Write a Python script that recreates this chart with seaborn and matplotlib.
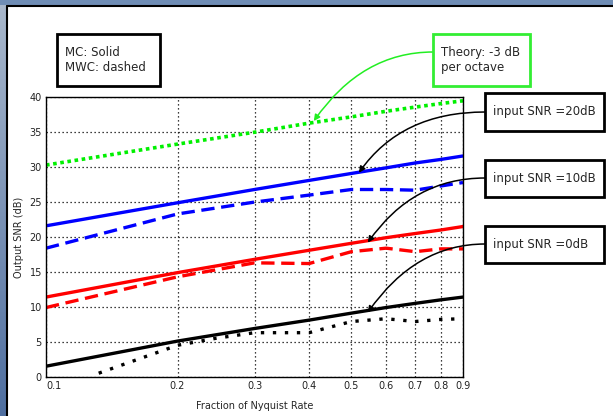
import numpy as np
import pandas as pd
import matplotlib
matplotlib.use("Agg")
import matplotlib.pyplot as plt
import seaborn as sns
from matplotlib.patches import Rectangle

# values
fraction = [0.1, 0.2, 0.3, 0.4, 0.5, 0.6, 0.7, 0.8, 0.9]
theory = [30.3, 33.3, 35.0, 36.3, 37.2, 38.0, 38.6, 39.1, 39.5]
mc_20db = [21.6, 24.9, 26.8, 28.1, 29.1, 29.9, 30.6, 31.1, 31.6]
mwc_20db = [18.4, 23.3, 25.0, 26.0, 26.8, 26.8, 26.7, 27.3, 27.8]
mc_10db = [11.4, 14.9, 16.8, 18.1, 19.1, 19.9, 20.5, 21.0, 21.5]
mwc_10db = [9.9, 14.3, 16.3, 16.2, 17.9, 18.4, 17.9, 18.3, 18.3]
mc_0db = [1.5, 5.1, 6.9, 8.1, 9.1, 9.9, 10.5, 11.0, 11.4]
fraction_mwc0 = [0.132, 0.2, 0.245, 0.3, 0.4, 0.5, 0.6, 0.7, 0.8, 0.9]
mwc_0db = [0.5, 4.5, 5.5, 6.3, 6.3, 7.9, 8.3, 7.9, 8.2, 8.3]

xticks = [0.1, 0.2, 0.3, 0.4, 0.5, 0.6, 0.7, 0.8, 0.9]
yticks = [0, 5, 10, 15, 20, 25, 30, 35, 40]

sns.set_theme(style="white")
plt.rcParams["font.family"] = ["DejaVu Sans"]

W, H = 613, 416
fig = plt.figure(figsize=(W / 100, H / 100), dpi=100)
fig.patch.set_facecolor("white")


def fx(px):
    return px / W


def fy(py):
    return 1 - py / H


# slide frame: blue strips on top and left
top = Rectangle((0, fy(5)), 1, 5 / H, transform=fig.transFigure,
                facecolor="#6f8db5", edgecolor="none")
fig.patches.append(top)
grad_ax = fig.add_axes([0, 0, fx(6), 1])
grad_ax.imshow(np.linspace(0, 1, 100).reshape(-1, 1), aspect="auto",
               cmap=matplotlib.colors.LinearSegmentedColormap.from_list(
                   "frame", ["#a9b8cc", "#4f6fa0"]))
grad_ax.axis("off")
fig.add_artist(plt.Line2D([fx(6.5), 1], [fy(5.5), fy(5.5)], color="black", lw=1.5))
fig.add_artist(plt.Line2D([fx(6.5), fx(6.5)], [0, fy(5.5)], color="black", lw=1.5))

ax = fig.add_axes([fx(46), fy(376.7), fx(463) - fx(46), (376.7 - 97.3) / H])

series = [
    (fraction, theory, "#00f000", (0, (1, 1)), 2.6),
    (fraction, mc_20db, "#0000ff", "-", 2.4),
    (fraction, mwc_20db, "#0000ff", (0, (4, 2)), 2.4),
    (fraction, mc_10db, "#ff0000", "-", 2.4),
    (fraction, mwc_10db, "#ff0000", (0, (4, 2)), 2.4),
    (fraction, mc_0db, "black", "-", 2.4),
    (fraction_mwc0, mwc_0db, "black", (0, (1, 2.6)), 2.4),
]
for xs, ys, color, ls, lw in series:
    sns.lineplot(x=xs, y=ys, ax=ax, color=color, linestyle=ls, linewidth=lw,
                 sort=False)

ax.set_xscale("log")
ax.set_xlim(0.1, 0.9)
ax.set_ylim(0, 40)
ax.set_xticks(xticks)
ax.set_xticklabels([str(t) for t in xticks])
ax.xaxis.set_minor_locator(matplotlib.ticker.NullLocator())
ax.set_yticks(yticks)
ax.tick_params(length=0, labelsize=7, pad=3, colors="#222222")
ax.get_xticklabels()[0].set_horizontalalignment("left")
ax.grid(True, color="black", linestyle=(0, (1, 2.2)), linewidth=0.9)
for s in ax.spines.values():
    s.set_color("black")
    s.set_linewidth(1)
ax.set_xlabel("Fraction of Nyquist Rate", fontsize=7, labelpad=7)
ax.set_ylabel("Output SNR (dB)", fontsize=7, labelpad=4)


def box(x0, y0, x1, y1, text, edge="black"):
    fig.patches.append(Rectangle((fx(x0), fy(y1)), fx(x1) - fx(x0), (y1 - y0) / H,
                                 transform=fig.transFigure, facecolor="white",
                                 edgecolor=edge, lw=2))
    fig.text(fx(x0 + 8), fy((y0 + y1) / 2), text, fontsize=8.5, va="center",
             ha="left", linespacing=1.25)


box(57, 34, 160, 86, "MC: Solid\nMWC: dashed")
box(433, 34, 530, 86, "Theory: -3 dB\nper octave", edge="#33ee33")
box(485, 93, 604, 131, "input SNR =20dB")
box(485, 160, 604, 197, "input SNR =10dB")
box(485, 226, 604, 263, "input SNR =0dB")

arrows = [
    ((433, 52), (0.41, 36.6), "#22ee22"),
    ((485, 112), (0.52, 29.2), "black"),
    ((485, 178), (0.545, 19.2), "black"),
    ((485, 244), (0.545, 9.2), "black"),
]
for (px, py), xy, color in arrows:
    ax.annotate("", xy=xy, xycoords="data",
                xytext=(fx(px), fy(py)), textcoords="figure fraction",
                arrowprops=dict(arrowstyle="-|>", color=color, lw=1.1,
                                mutation_scale=9, shrinkA=0, shrinkB=0,
                                connectionstyle="angle3,angleA=0,angleB=55"),
                annotation_clip=False)

fig.savefig("out.png", dpi=100, facecolor="white")
